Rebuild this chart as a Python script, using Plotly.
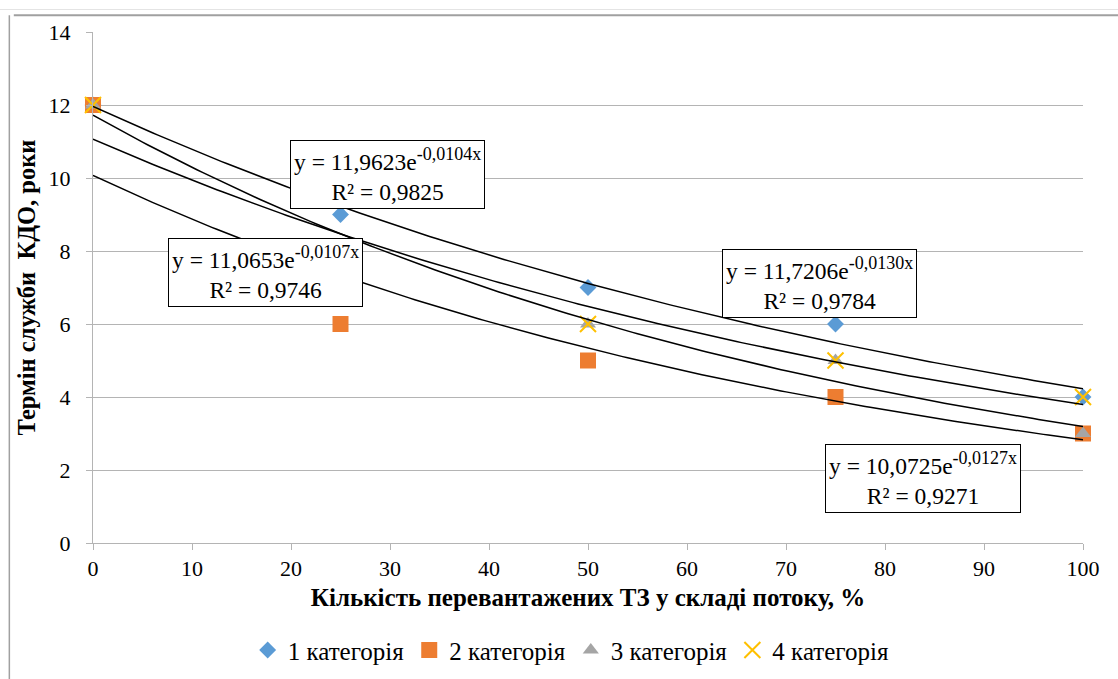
import plotly.graph_objects as go
import numpy as np

# ---- data ----
x_vals = [0, 25, 50, 75, 100]
cat1 = [12, 9, 7, 6, 4]
cat2 = [12, 6, 5, 4, 3]
cat3 = [12, 8, 6, 5, 3]
cat4 = [12, 8, 6, 5, 4]
series_names = ["1 категорія", "2 категорія", "3 категорія", "4 категорія"]

# exponential trendline coefficients y = a*exp(b*x)
trend_a = [11.9623, 10.0725, 11.7206, 11.0653]
trend_b = [-0.0104, -0.0127, -0.0130, -0.0107]
trend_r2 = ["0,9825", "0,9271", "0,9784", "0,9746"]
trend_a_txt = ["11,9623", "10,0725", "11,7206", "11,0653"]
trend_b_txt = ["-0,0104", "-0,0127", "-0,0130", "-0,0107"]

x_title = "Кількість перевантажених ТЗ у складі потоку, %"
y_title = "Термін служби  КДО, роки"

FONT = "Liberation Serif"

colors = ["#5B9BD5", "#ED7D31", "#A5A5A5", "#FFC000"]
symbols = ["diamond", "square", "triangle-up", "x-thin"]
sizes = [13, 16, 14, 16]

fig = go.Figure()
all_series = [cat1, cat2, cat3, cat4]
for i, ys in enumerate(all_series):
    marker = dict(color=colors[i], symbol=symbols[i], size=sizes[i])
    if symbols[i] == "x-thin":
        marker["line"] = dict(color=colors[i], width=2)
    fig.add_trace(go.Scatter(x=x_vals, y=ys, mode="markers", name=series_names[i],
                             marker=marker, cliponaxis=False))

xs = np.linspace(0, 100, 201)
for a, b in zip(trend_a, trend_b):
    fig.add_trace(go.Scatter(x=xs, y=a * np.exp(b * xs), mode="lines",
                             line=dict(color="black", width=1.5),
                             showlegend=False, hoverinfo="skip"))

# annotation positions (data coords) for each series' trend label
ann_pos = [(29.7, 10.1), (83.8, 1.77), (73.4, 7.12), (17.4, 7.42)]
for i, (ax_, ay_) in enumerate(ann_pos):
    fig.add_annotation(
        x=ax_, y=ay_, xref="x", yref="y", showarrow=False,
        text=(f"y = {trend_a_txt[i]}e<sup><span style='font-size:18px'>{trend_b_txt[i]}x</span></sup>"
              f"<br>R² = {trend_r2[i]}"),
        font=dict(family=FONT, size=23.5, color="black"),
        bgcolor="white", bordercolor="black", borderwidth=1, borderpad=3,
        align="center")

grid_color = "#b4b4b4"
fig.update_layout(
    width=1118, height=679,
    margin=dict(l=93, r=35, t=32, b=136, autoexpand=False),
    paper_bgcolor="white", plot_bgcolor="white",
    font=dict(family=FONT, size=20, color="black"),
    showlegend=True,
    legend=dict(orientation="h", x=0.483, xanchor="center", y=-0.21, yanchor="middle",
                font=dict(family=FONT, size=25, color="black"),
                itemwidth=30, tracegroupgap=0),
    xaxis=dict(range=[0, 100], dtick=10, tick0=0, showgrid=False, automargin=False,
               showline=True, linecolor=grid_color, linewidth=1,
               ticks="outside", ticklen=6, tickcolor=grid_color,
               zeroline=False, tickfont=dict(family=FONT, size=22),
               title=dict(text=f"<b>{x_title}</b>", font=dict(family=FONT, size=25), standoff=8)),
    yaxis=dict(range=[0, 14], dtick=2, tick0=0, showgrid=True, gridcolor=grid_color, automargin=False,
               showline=True, linecolor=grid_color, linewidth=1,
               ticks="outside", ticklen=6, tickcolor=grid_color,
               zeroline=False, tickfont=dict(family=FONT, size=22), ticklabelstandoff=11,
               title=dict(text=f"<b>{y_title}</b>", font=dict(family=FONT, size=24.5), standoff=6)),
)

# outer chart frame (top and left) and faint page line
fig.add_shape(type="line", xref="paper", yref="paper", x0=-0.095, x1=1.04, y0=1.044, y1=1.044,
              line=dict(color="#e4e4e4", width=1))
fig.add_shape(type="line", xref="paper", yref="paper", x0=-0.08, x1=1.04, y0=1.033, y1=1.033,
              line=dict(color="#a0a0a0", width=2))
fig.add_shape(type="line", xref="paper", yref="paper", x0=-0.0845, x1=-0.0845, y0=1.033, y1=-0.3,
              line=dict(color="#a0a0a0", width=1.5))

fig.write_html("out.html")
